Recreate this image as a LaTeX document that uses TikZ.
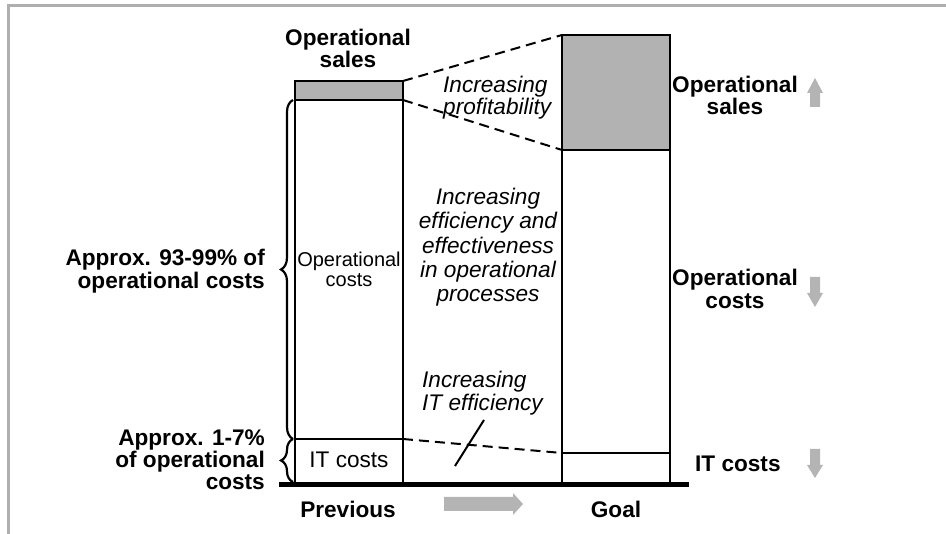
\documentclass[tikz,border=0pt]{standalone}
\usepackage{fontspec}
\setmainfont{Liberation Sans}
\usetikzlibrary{decorations.pathreplacing}
\definecolor{salesgray}{HTML}{B2B2B2}
\definecolor{arrowgray}{HTML}{B4B4B4}
\definecolor{framegray}{HTML}{AFAFAF}
\begin{document}
\begin{tikzpicture}[x=1pt,y=-1pt,
  bar/.style={draw, line width=2pt, minimum width=108pt, inner sep=0pt, outer sep=0pt},
  boldlbl/.style={font=\fontsize{22.6}{21}\selectfont\bfseries, inner sep=0pt},
  itlbl/.style={font=\fontsize{22.6}{21}\selectfont\itshape, inner sep=0pt},
  plainlbl/.style={font=\fontsize{22.6}{21}\selectfont, inner sep=0pt},
  zoomline/.style={line width=2pt, dash pattern=on 10pt off 6pt},
  bracemark/.style={line width=2.2pt, decorate, decoration={brace, amplitude=12pt}},
  grayarrow/.style={fill=arrowgray, draw=none}]
\useasboundingbox (0,0) rectangle (946,534);

% frame
\draw[framegray, line width=3pt] (8,534) -- (8,6) -- (946,6);

% previous bar
\node[bar, minimum height=339pt] (prevops) at (349,269.5) {};
\node[bar, minimum height=44pt] (previt) at (349,461) {};
\node[bar, fill=salesgray, minimum height=19pt] (prevsales) at (349,90.5) {};

% goal bar
\node[bar, minimum height=303pt] (goalops) at (616,301.5) {};
\node[bar, minimum height=30pt] (goalit) at (616,468) {};
\node[bar, fill=salesgray, minimum height=115pt] (goalsales) at (616,92.5) {};

% ground line
\coordinate (groundL) at (279,484.5);
\coordinate (groundR) at (689,484.5);
\draw[line width=4.5pt] (groundL) -- (groundR);

% dashed projections
\draw[zoomline] (prevsales.north east) -- (goalsales.north west);
\draw[zoomline] (prevsales.south east) -- (goalsales.south west);
\draw[zoomline] (previt.north east) -- (goalit.north west);

% tick across the IT line
\coordinate (tickA) at (455,466);
\coordinate (tickB) at (484,420);
\draw[line width=2pt] (tickA) -- (tickB);

% braces
\draw[bracemark] (293,439) -- (293,100);
\draw[bracemark] (293,482) -- (293,439);

% texts in the bars
\node[font=\fontsize{20}{20}\selectfont, inner sep=0pt, align=center, anchor=north] (opstext) at (349,252) {Operational\\costs};
\node[plainlbl, anchor=north] (ittext) at (349,452) {IT costs};

% top label
\node[boldlbl, align=center, anchor=north] (topsales) at (348,29) {Operational\\sales};

% middle comments
\node[itlbl, align=left, anchor=north west] (profit) at (443,76) {Increasing\\profitability};
\node[itlbl, font=\fontsize{22.6}{24.3}\selectfont\itshape, align=center, anchor=north] (effic) at (488,188)
  {Increasing\\efficiency and\\effectiveness\\in operational\\processes};
\node[itlbl, font=\fontsize{22.6}{23}\selectfont\itshape, align=left, anchor=north west] (iteff) at (422,371) {Increasing\\IT efficiency};

% left labels
\node[boldlbl, font=\fontsize{22.6}{23}\selectfont\bfseries, align=right, anchor=north east] (leftbig) at (265,249) {Approx. 93-99\% of\\operational costs};
\node[boldlbl, font=\fontsize{22.6}{22}\selectfont\bfseries, align=right, anchor=north east] (leftsmall) at (265,430) {Approx. 1-7\%\\of operational\\costs};

% right labels
\node[boldlbl, align=center, anchor=north] (rsales) at (735,76) {Operational\\sales};
\node[boldlbl, font=\fontsize{22.6}{23}\selectfont\bfseries, align=center, anchor=north] (rops) at (735,269) {Operational\\costs};
\node[boldlbl, anchor=north west] (rit) at (695,456) {IT costs};

% axis labels
\node[boldlbl, anchor=north] (prevlbl) at (348,501) {Previous};
\node[boldlbl, anchor=north] (goallbl) at (616,501) {Goal};

% trend arrows
\fill[grayarrow] (810,107) -- (810,93) -- (807,93) -- (815,78) -- (823,93) -- (820,93) -- (820,107) -- cycle;
\fill[grayarrow] (810,277) -- (810,293) -- (807,293) -- (815,307) -- (823,293) -- (820,293) -- (820,277) -- cycle;
\fill[grayarrow] (810,449) -- (810,465) -- (807,465) -- (815,478) -- (823,465) -- (820,465) -- (820,449) -- cycle;
\fill[grayarrow] (444,497) -- (513,497) -- (513,493) -- (523,504) -- (513,515) -- (513,511) -- (444,511) -- cycle;
\end{tikzpicture}
\end{document}
